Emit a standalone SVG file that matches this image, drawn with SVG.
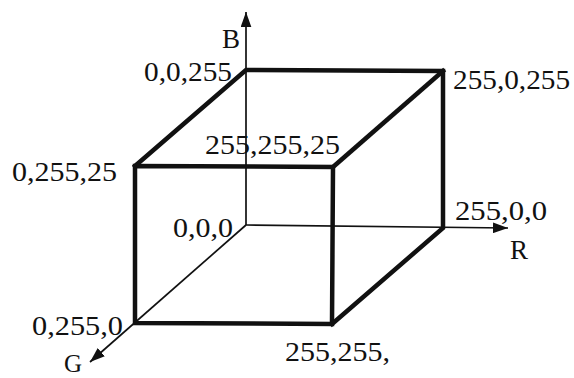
<svg xmlns="http://www.w3.org/2000/svg" width="574" height="378" viewBox="0 0 574 378">
<defs>
<style>
.thick{stroke:#111;stroke-width:4.5;fill:none;stroke-linejoin:miter;stroke-linecap:square}
.thin{stroke:#111;stroke-width:1.7;fill:none}
text{font-family:"Liberation Serif","Times New Roman",serif;font-size:27px;fill:#111}
</style>
<marker id="arrBig" viewBox="0 0 14 10" refX="14" refY="5" markerWidth="15" markerHeight="11" markerUnits="userSpaceOnUse" orient="auto">
<path d="M0,0 L14,5 L0,10 Z" fill="#111"/>
</marker>
</defs>
<rect width="574" height="378" fill="#fff"/>
<g id="connectors">
<line class="thin" x1="246" y1="225" x2="246" y2="12" marker-end="url(#arrBig)"/>
<line class="thin" x1="246" y1="225" x2="508" y2="228" marker-end="url(#arrBig)"/>
<line class="thin" x1="246" y1="225" x2="90" y2="362" marker-end="url(#arrBig)"/>
<path class="thick" d="M135,166 L333,167 L332,324 L135,323 Z"/>
<path class="thick" d="M135,166 L246,70 L443,71 L443,228 L332,324"/>
<path class="thick" d="M333,167 L443,71"/>
</g>
<g id="n-blue"><text x="144" y="81" textLength="88" lengthAdjust="spacingAndGlyphs">0,0,255</text></g>
<g id="n-magenta"><text x="453" y="89" textLength="117" lengthAdjust="spacingAndGlyphs">255,0,255</text></g>
<g id="n-cyan"><text x="12" y="181" textLength="105" lengthAdjust="spacingAndGlyphs">0,255,25</text></g>
<g id="n-white"><text x="205" y="154" textLength="135" lengthAdjust="spacingAndGlyphs">255,255,25</text></g>
<g id="n-black"><text x="173" y="237" textLength="60" lengthAdjust="spacingAndGlyphs">0,0,0</text></g>
<g id="n-red"><text x="455" y="220" textLength="92" lengthAdjust="spacingAndGlyphs">255,0,0</text></g>
<g id="n-green"><text x="32" y="335" textLength="91" lengthAdjust="spacingAndGlyphs">0,255,0</text></g>
<g id="n-yellow"><text x="285" y="361" textLength="105" lengthAdjust="spacingAndGlyphs">255,255,</text></g>
<g id="axis-labels">
<text x="222" y="48">B</text>
<text x="510" y="259">R</text>
<text x="64" y="372" style="font-size:25px">G</text>
</g>
</svg>
